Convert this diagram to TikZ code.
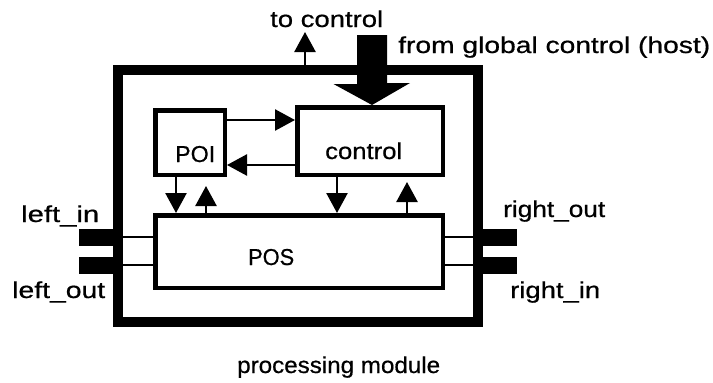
\documentclass[tikz,border=0pt]{standalone}
\usepackage{fontspec}
\usepackage{graphicx}
\setmainfont[FakeBold=0.6]{Liberation Sans}
\usetikzlibrary{arrows.meta}
\newcommand\fitw[2]{\resizebox{#1}{\height}{#2}}
\begin{document}
\begin{tikzpicture}[x=1pt,y=-1pt,
  lbl/.style={font=\fontsize{23}{27}\selectfont, inner sep=0pt},
  box/.style={draw, line width=4.5pt, inner sep=0pt},
  stub/.style={fill, inner sep=0pt, minimum width=34pt, minimum height=17pt},
  link/.style={line width=2pt},
  arr/.style={line width=2.5pt, -{Triangle[length=20pt,width=21pt]}}]
\useasboundingbox (0,0) rectangle (713,383);
% frame and boxes
\node[draw, line width=10pt, inner sep=0pt, minimum width=360pt, minimum height=252pt] (frame) at (298,196) {};
\node[box, minimum width=287.5pt, minimum height=72.5pt] (POS) at (299,251.5) {};
\node[box, minimum width=69.5pt, minimum height=64.5pt] (POI) at (190,142.5) {};
\node[box, minimum width=145.5pt, minimum height=67.5pt] (control) at (370,141) {};
% texts
\node[lbl, anchor=base west] (tPOI) at (175,162) {\fitw{40pt}{POI}};
\node[lbl, anchor=base west] (tcontrol) at (325,159) {\fitw{77pt}{control}};
\node[lbl, anchor=base west] (tPOS) at (248,265) {\fitw{46pt}{POS}};
\node[lbl, anchor=base west] (tlin) at (21,222) {\fitw{78pt}{left\_in}};
\node[lbl, anchor=base west] (tlout) at (12,298) {\fitw{93pt}{left\_out}};
\node[lbl, anchor=base west] (trout) at (503,217) {\fitw{102pt}{right\_out}};
\node[lbl, anchor=base west] (trin) at (510,298) {\fitw{90pt}{right\_in}};
\node[lbl, anchor=base west] (ttc) at (270,27) {\fitw{113pt}{to control}};
\node[lbl, anchor=base west] (tgc) at (398,53) {\fitw{312pt}{from global control (host)}};
\node[lbl, anchor=base west] (tpm) at (237,373) {\fitw{203pt}{processing module}};
% helper coordinates
\coordinate (r1) at (0,237);
\coordinate (r2) at (0,265);
\coordinate (a1) at (0,120);
\coordinate (a2) at (0,165);
\coordinate (v1) at (176,0);
\coordinate (v2) at (206,0);
\coordinate (v3) at (337,0);
\coordinate (v4) at (407,0);
\coordinate (tc) at (305,32);
\coordinate (gc) at (372,35);
% port stubs
\node[stub, anchor=east] (lin) at (frame.west |- r1) {};
\node[stub, anchor=east] (lout) at (frame.west |- r2) {};
\node[stub, anchor=west] (rout) at (frame.east |- r1) {};
\node[stub, anchor=west] (rin) at (frame.east |- r2) {};
% links
\draw[link] (lin.east) -- (lin.east -| POS.west);
\draw[link] (lout.east) -- (lout.east -| POS.west);
\draw[link] (rout.west) -- (rout.west -| POS.east);
\draw[link] (rin.west) -- (rin.west -| POS.east);
% arrows between POI and control
\draw[arr] (POI.east |- a1) -- (control.west |- a1);
\draw[arr] (control.west |- a2) -- (POI.east |- a2);
% vertical arrows
\draw[arr] (POI.south -| v1) -- (POS.north -| v1);
\draw[arr, shorten >=9pt] (POS.north -| v2) -- (POI.south -| v2);
\draw[arr] (control.south -| v3) -- (POS.north -| v3);
\draw[arr, shorten >=5pt] (POS.north -| v4) -- (control.south -| v4);
% to control
\draw[arr] (frame.north -| tc) -- (tc);
% big arrow from global control
\fill (gc) ++(-15,0) -- ++(30,0) -- ++(0,48) -- ++(23,0) -- (control.north -| gc) -- ++(-38.5,-21) -- ++(23.5,0) -- cycle;
\end{tikzpicture}
\end{document}
